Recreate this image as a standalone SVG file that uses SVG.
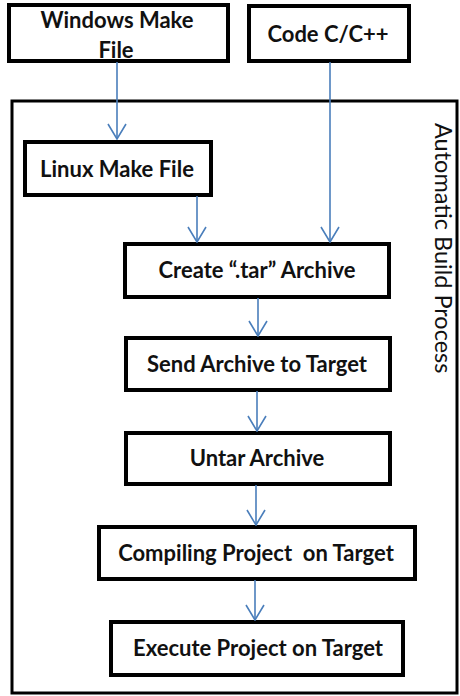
<svg xmlns="http://www.w3.org/2000/svg" width="460" height="696" viewBox="0 0 460 696">
  <style>
    .box { fill: #fff; stroke: #000; stroke-width: 4; }
    .frame { fill: #fff; stroke: #000; stroke-width: 3; }
    .lbl { font-family: Lato, "Liberation Sans", sans-serif; font-weight: 700; font-size: 22px; fill: #111; text-anchor: middle; }
    .side { font-family: Lato, "Liberation Sans", sans-serif; font-size: 23.5px; fill: #111; }
    .wire { stroke: #4a7ebb; stroke-width: 1.6; fill: none; marker-end: url(#head); }
  </style>
  <defs>
    <!-- open V arrowhead, drawn pointing along +x -->
    <marker id="head" viewBox="0 0 17 20" refX="16" refY="10" markerWidth="17" markerHeight="20" markerUnits="userSpaceOnUse" orient="auto">
      <path d="M1,1 L16,10 L1,19" fill="none" stroke="#4a7ebb" stroke-width="1.6"/>
    </marker>
  </defs>
  <rect width="460" height="696" fill="#fff"/>

  <!-- Automatic build process frame -->
  <g id="frame">
    <rect class="frame" x="12" y="101" width="445" height="592"/>
    <text class="side" transform="translate(435,123) rotate(90)">Automatic Build Process</text>
  </g>

  <g id="windows-make">
    <rect class="box" x="9" y="5" width="219" height="56"/>
    <text class="lbl" x="117" y="28">Windows Make</text>
    <text class="lbl" x="116" y="58">File</text>
  </g>
  <g id="code">
    <rect class="box" x="249" y="6" width="160" height="55"/>
    <text class="lbl" x="328" y="42">Code C/C++</text>
  </g>
  <g id="linux-make">
    <rect class="box" x="25" y="142" width="186" height="53"/>
    <text class="lbl" x="117" y="177">Linux Make File</text>
  </g>
  <g id="create-tar">
    <rect class="box" x="125" y="244" width="264" height="53"/>
    <text class="lbl" x="257" y="278">Create “.tar” Archive</text>
  </g>
  <g id="send">
    <rect class="box" x="126" y="338" width="264" height="52"/>
    <text class="lbl" x="257" y="372">Send Archive to Target</text>
  </g>
  <g id="untar">
    <rect class="box" x="126" y="433" width="264" height="51"/>
    <text class="lbl" x="257" y="466">Untar Archive</text>
  </g>
  <g id="compile">
    <rect class="box" x="99" y="527" width="316" height="52"/>
    <text class="lbl" x="256" y="561" xml:space="preserve">Compiling Project  on Target</text>
  </g>
  <g id="execute">
    <rect class="box" x="111" y="622" width="292" height="53"/>
    <text class="lbl" x="258" y="656">Execute Project on Target</text>
  </g>

  <g id="connectors">
    <line class="wire" x1="117" y1="62" x2="117" y2="139"/>
    <line class="wire" x1="330" y1="62" x2="330" y2="242"/>
    <line class="wire" x1="197" y1="196" x2="197" y2="242"/>
    <line class="wire" x1="258" y1="298" x2="258" y2="336"/>
    <line class="wire" x1="257" y1="391" x2="257" y2="431"/>
    <line class="wire" x1="256" y1="485" x2="256" y2="525"/>
    <line class="wire" x1="255" y1="580" x2="255" y2="620"/>
  </g>
</svg>
